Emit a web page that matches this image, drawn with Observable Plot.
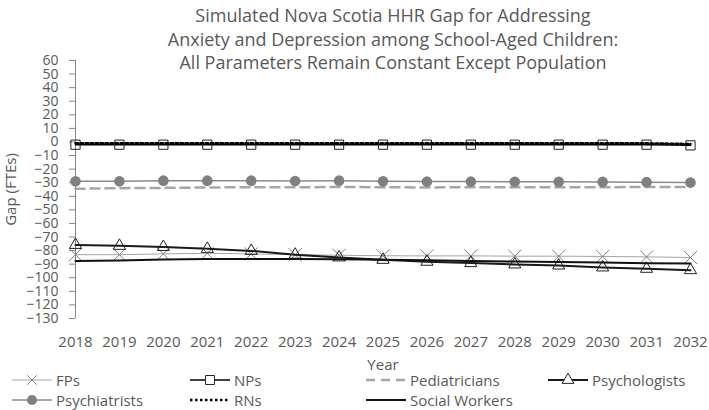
<!DOCTYPE html>
<html><head><meta charset="utf-8">
<script src="https://cdn.jsdelivr.net/npm/d3@7"></script>
<script src="https://cdn.jsdelivr.net/npm/@observablehq/plot@0.6"></script>
<style>
body{margin:0;background:#fff;}
#wrap{position:relative;width:709px;height:410px;font-family:"Open Sans",sans-serif;color:#595959;overflow:hidden;}
#chart{position:absolute;left:0;top:0;}
#title{position:absolute;left:93px;top:4px;width:600px;text-align:center;font-size:18px;line-height:23.5px;color:#595959;}
.lg{position:absolute;height:20px;line-height:20px;font-size:15px;color:#595959;white-space:nowrap;display:flex;align-items:center;}
.lg svg{margin-right:4px;}
</style></head><body>
<div id="wrap"><div id="chart"></div><div id="title"></div><div id="legend"></div></div>
<script>
const titleLines = ["Simulated Nova Scotia HHR Gap for Addressing","Anxiety and Depression among School-Aged Children:","All Parameters Remain Constant Except Population"];
const years = [2018,2019,2020,2021,2022,2023,2024,2025,2026,2027,2028,2029,2030,2031,2032];
const yTicks = [-130,-120,-110,-100,-90,-80,-70,-60,-50,-40,-30,-20,-10,0,10,20,30,40,50,60];
const seriesNames = ["FPs","NPs","Pediatricians","Psychologists","Psychiatrists","RNs","Social Workers"];
const fps = [-83,-83,-82.4,-82,-82.4,-83,-83.4,-83.8,-83.9,-83.9,-84.1,-84.1,-84.3,-84.6,-85.1];
const nps = [-2,-2,-2,-2,-2,-2,-2,-2,-2,-2,-2,-2,-2,-2,-2.5];
const pediatricians = [-34.5,-34,-33.8,-33.5,-33.3,-33.3,-33.2,-33.3,-33.5,-33.3,-33.3,-33.3,-33.3,-33.2,-33.2];
const psychologists = [-75.8,-76.5,-77.3,-78.7,-80.2,-83,-85,-86.8,-88.2,-89.2,-90.2,-91,-92.4,-93.4,-94.4];
const psychiatrists = [-29,-29,-28.5,-28.5,-28.5,-28.7,-28.5,-29,-29.2,-29.2,-29.3,-29.3,-29.4,-29.6,-29.8];
const rns = [-1,-1,-1,-1,-1,-1,-1,-1,-1,-1,-1,-1,-1,-1,-1.5];
const socialWorkers = [-87.6,-87.3,-86.6,-86.1,-86.1,-86.1,-86.3,-86.8,-87.1,-87.6,-88.1,-88.3,-88.8,-89.3,-89.5];

const ser = arr => years.map((year, i) => ({year, value: arr[i]}));
const axisGray = "#868686";
const P = {x: "year", y: "value"};

const chart = Plot.plot({
  width: 709, height: 372,
  marginLeft: 75, marginRight: 19, marginTop: 60, marginBottom: 54,
  style: {fontFamily: '"Open Sans", sans-serif', color: "#595959", background: "white", overflow: "visible"},
  x: {domain: [years[0], years[years.length - 1]]},
  y: {domain: [yTicks[0], yTicks[yTicks.length - 1]]},
  marks: [
    Plot.ruleX([years[0]], {y1: () => yTicks[0], y2: () => yTicks[yTicks.length - 1], stroke: axisGray, strokeWidth: 1}),
    Plot.axisY({ticks: yTicks, tickSize: 6, tickPadding: 11, fontSize: 14, stroke: axisGray, label: null}),
    Plot.axisY({ticks: [], tickSize: 0, fontSize: 15, label: "Gap (FTEs)", labelAnchor: "center", labelArrow: "none", labelOffset: 70}),
    Plot.axisX({ticks: years, tickFormat: d => String(d), tickSize: 0, tickPadding: 18, fontSize: 15, label: "Year", labelAnchor: "center", labelArrow: "none"}),
    // FPs
    Plot.line(ser(fps), {...P, stroke: "#a5a5a5", strokeWidth: 1}),
    Plot.dot(ser(fps), {...P, symbol: "times", r: 6, stroke: "#7f7f7f", strokeWidth: 1}),
    // NPs
    Plot.line(ser(nps), {...P, stroke: "#000", strokeWidth: 1.5}),
    Plot.dot(ser(nps), {...P, symbol: "square", r: 5.2, stroke: "#222", fill: "none", strokeWidth: 1}),
    // Pediatricians
    Plot.line(ser(pediatricians), {...P, stroke: "#a6a6a6", strokeWidth: 2.5, strokeDasharray: "9,6"}),
    // Psychologists
    Plot.line(ser(psychologists), {...P, stroke: "#1a1a1a", strokeWidth: 2}),
    Plot.dot(ser(psychologists), {...P, symbol: "triangle", r: 4.5, stroke: "#222", fill: "none", strokeWidth: 1}),
    // Psychiatrists
    Plot.line(ser(psychiatrists), {...P, stroke: "#8a8a8a", strokeWidth: 1.5}),
    Plot.dot(ser(psychiatrists), {...P, r: 5.3, fill: "#808080", stroke: "none"}),
    // RNs
    Plot.line(ser(rns), {...P, stroke: "#000", strokeWidth: 2.5, strokeDasharray: "2.5,2.5"}),
    // Social Workers
    Plot.line(ser(socialWorkers), {...P, stroke: "#111", strokeWidth: 2})
  ]
});
document.getElementById("chart").appendChild(chart);

document.getElementById("title").innerHTML = titleLines.map(t => `<div>${t}</div>`).join("");

// Legend
const legendStyles = {
  "FPs": {stroke: "#a5a5a5", w: 1, marker: d3.symbolTimes, size: 60, mStroke: "#7f7f7f", mFill: "none"},
  "NPs": {stroke: "#000", w: 1.5, marker: d3.symbolSquare, size: 80, mStroke: "#222", mFill: "white"},
  "Pediatricians": {stroke: "#a6a6a6", w: 2.5, dash: "9,6"},
  "Psychologists": {stroke: "#1a1a1a", w: 2, marker: d3.symbolTriangle, size: 60, mStroke: "#222", mFill: "white"},
  "Psychiatrists": {stroke: "#8a8a8a", w: 1.5, marker: d3.symbolCircle, size: 80, mStroke: "none", mFill: "#808080"},
  "RNs": {stroke: "#000", w: 2.5, dash: "2.5,2.5"},
  "Social Workers": {stroke: "#111", w: 2}
};
const legendLefts = [12, 190, 366, 548];
const legendRows = [370, 389.5];
const lg = document.getElementById("legend");
seriesNames.forEach((name, i) => {
  const s = legendStyles[name];
  const row = Math.floor(i / 4), col = i % 4;
  const div = document.createElement("div");
  div.className = "lg";
  div.style.left = legendLefts[col] + "px";
  div.style.top = legendRows[row] + "px";
  let svg = `<svg width="40" height="20"><line x1="0" x2="40" y1="10" y2="10" stroke="${s.stroke}" stroke-width="${s.w}" ${s.dash ? `stroke-dasharray="${s.dash}"` : ""}/>`;
  if (s.marker) svg += `<path transform="translate(20,10)" d="${d3.symbol(s.marker, s.size)()}" fill="${s.mFill}" stroke="${s.mStroke}" stroke-width="1"/>`;
  svg += `</svg>`;
  div.innerHTML = svg + `<span>${name}</span>`;
  lg.appendChild(div);
});
</script>
</body></html>
